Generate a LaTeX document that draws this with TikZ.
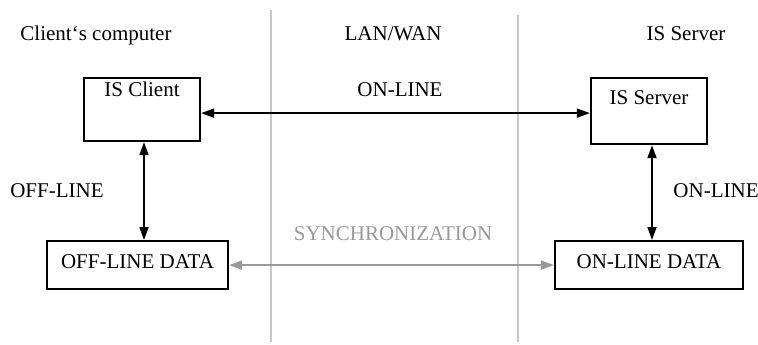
\documentclass[tikz,border=0pt]{standalone}
\usepackage{fontspec}
\setmainfont{Liberation Serif}
\usetikzlibrary{arrows.meta}
\definecolor{divgray}{HTML}{C8C8C8}
\definecolor{syncgray}{HTML}{999999}
\begin{document}
\begin{tikzpicture}[x=0.5pt,y=-0.5pt,
    font=\fontsize{10.5}{12}\selectfont,
    box/.style={draw,line width=1.1pt,inner sep=0pt},
    lbl/.style={inner sep=0pt,anchor=base},
    link/.style={line width=0.85pt,{Triangle[length=6.5pt,width=4.5pt]}-{Triangle[length=6.5pt,width=4.5pt]}}]
      \useasboundingbox (0,0) rectangle (758,344);
      % dividers
      \draw[divgray,line width=0.75pt] (271,10) -- (271,342);
      \draw[divgray,line width=0.75pt] (518,15) -- (518,342);
      % headings
      \node[lbl] (hclient) at (96,40) {Client‘s computer};
      \node[lbl] (hlan) at (393,40) {LAN/WAN};
      \node[lbl] (hserver) at (686,40) {IS Server};
      % boxes
      \node[box,minimum width=58pt,text height=9pt,text depth=22.5pt] (client) at (142,77) [anchor=north] {IS Client};
      \node[box,minimum width=58pt,text height=13pt,text depth=20pt] (server) at (649,77) [anchor=north] {IS Server};
      \node[box,minimum width=90.5pt,text height=13.5pt,text depth=10.5pt] (offdata) at (137.5,240) [anchor=north] {OFF-LINE DATA};
      \node[box,minimum width=94pt,text height=13.5pt,text depth=10.5pt] (ondata) at (649,240) [anchor=north] {ON-LINE DATA};
      % labels
      \node[lbl] (lonline) at (400,96) {ON-LINE};
      \node[lbl] (loffline) at (57,197) {OFF-LINE};
      \node[lbl] (lonline2) at (716,197) {ON-LINE};
      \node[lbl,text=syncgray] (lsync) at (393,240) {SYNCHRONIZATION};
      \begin{scope}[link]
        \draw ([yshift=-1.75pt]client.east) -- ([yshift=-1.75pt]client.east -| server.west);
        \draw ([xshift=1pt]client.south) -- ([xshift=1pt]client.south |- offdata.north);
        \draw ([xshift=1.5pt]server.south) -- ([xshift=1.5pt]server.south |- ondata.north);
        \draw[syncgray] (offdata) -- (ondata);
      \end{scope}
    \end{tikzpicture}
\end{document}
